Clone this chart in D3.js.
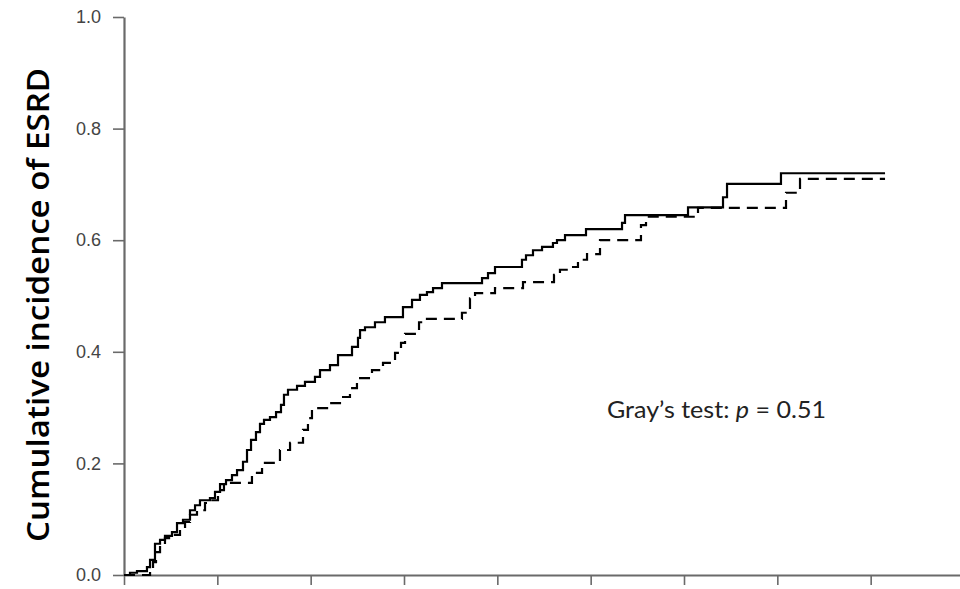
<!DOCTYPE html>
<html>
<head>
<meta charset="utf-8">
<script src="https://cdn.jsdelivr.net/npm/d3@7"></script>
<style>
  html, body { margin: 0; padding: 0; background: #fff; }
  svg { display: block; }
</style>
</head>
<body>
<svg id="chart" width="960" height="589"></svg>
<script>
// Cumulative incidence of ESRD, two groups (step functions: [time, value after jump])
const solidSteps = [
  [0, 0], [0.064, 0.004], [0.139, 0.007], [0.246, 0.014], [0.279, 0.027],
  [0.332, 0.056], [0.386, 0.063], [0.439, 0.070], [0.514, 0.077], [0.568, 0.093],
  [0.632, 0.099], [0.707, 0.116], [0.761, 0.125], [0.814, 0.134], [0.921, 0.138],
  [0.975, 0.149], [1.029, 0.163], [1.093, 0.170], [1.157, 0.179], [1.211, 0.188],
  [1.275, 0.203], [1.318, 0.224], [1.361, 0.242], [1.414, 0.256], [1.457, 0.271],
  [1.500, 0.278], [1.564, 0.283], [1.629, 0.292], [1.682, 0.305], [1.714, 0.323],
  [1.757, 0.332], [1.854, 0.339], [1.939, 0.346], [2.046, 0.355], [2.100, 0.367],
  [2.207, 0.376], [2.293, 0.394], [2.443, 0.409], [2.507, 0.425], [2.529, 0.439],
  [2.582, 0.444], [2.689, 0.453], [2.796, 0.462], [2.989, 0.480], [3.086, 0.493],
  [3.171, 0.502], [3.246, 0.507], [3.311, 0.514], [3.407, 0.523], [3.836, 0.532],
  [3.900, 0.541], [3.975, 0.552], [4.264, 0.565], [4.307, 0.573], [4.382, 0.582],
  [4.479, 0.588], [4.596, 0.595], [4.639, 0.600], [4.725, 0.609], [4.950, 0.620],
  [5.336, 0.631], [5.368, 0.645], [6.043, 0.659], [6.418, 0.677], [6.461, 0.701],
  [7.039, 0.720], [8.154, 0.720]
];

const dashedSteps = [
  [0, 0], [0.279, 0.009], [0.311, 0.023], [0.343, 0.041], [0.386, 0.054],
  [0.439, 0.066], [0.514, 0.072], [0.600, 0.084], [0.654, 0.095], [0.707, 0.108],
  [0.782, 0.116], [0.868, 0.129], [0.921, 0.134], [1.007, 0.152], [1.071, 0.165],
  [1.371, 0.183], [1.479, 0.201], [1.671, 0.224], [1.779, 0.237], [1.918, 0.260],
  [1.971, 0.281], [2.014, 0.299], [2.207, 0.308], [2.314, 0.319], [2.421, 0.335],
  [2.496, 0.353], [2.657, 0.367], [2.775, 0.380], [2.904, 0.398], [2.968, 0.416],
  [3.011, 0.432], [3.161, 0.453], [3.225, 0.459], [3.621, 0.470], [3.707, 0.496],
  [3.761, 0.505], [3.975, 0.514], [4.275, 0.525], [4.607, 0.538], [4.671, 0.547],
  [4.757, 0.552], [4.864, 0.565], [4.961, 0.575], [5.100, 0.600], [5.539, 0.627],
  [5.593, 0.642], [6.150, 0.658], [7.093, 0.685], [7.243, 0.710], [8.154, 0.710]
];

const yTicks = [0, 0.2, 0.4, 0.6, 0.8, 1.0];
const xTicks = [0, 1, 2, 3, 4, 5, 6, 7, 8];
const yTitle = "Cumulative incidence of ESRD";

const svg = d3.select("#chart");

const x = d3.scaleLinear().domain([0, 9]).range([124, 964]);
const y = d3.scaleLinear().domain([0, 1]).range([575, 17]);

const axisColor = "#6a6a6a";

// y axis
const gy = svg.append("g")
  .attr("transform", "translate(124,0)")
  .call(d3.axisLeft(y).tickValues(yTicks).tickFormat(d3.format(".1f"))
    .tickSize(11).tickSizeOuter(0).tickPadding(12));
gy.select(".domain").attr("stroke", axisColor).attr("stroke-width", 2.2);
gy.selectAll(".tick line").attr("stroke", axisColor).attr("stroke-width", 1.6);
gy.selectAll(".tick text")
  .attr("fill", "#444")
  .style("font-family", "'Liberation Sans', Arial, sans-serif")
  .style("font-size", "18px");

// x axis (unlabelled ticks)
const gx = svg.append("g")
  .attr("transform", "translate(0,575)")
  .call(d3.axisBottom(x).tickValues(xTicks).tickFormat("")
    .tickSize(10).tickSizeOuter(0));
gx.select(".domain").attr("stroke", axisColor).attr("stroke-width", 2.2);
gx.selectAll(".tick line").attr("stroke", axisColor).attr("stroke-width", 1.6);

// step curves
const line = d3.line()
  .x(d => x(d[0]))
  .y(d => y(d[1]))
  .curve(d3.curveStepAfter);

svg.append("path")
  .datum(dashedSteps)
  .attr("d", line)
  .attr("fill", "none")
  .attr("stroke", "#000")
  .attr("stroke-width", 2.2)
  .attr("stroke-dasharray", "11,7");

svg.append("path")
  .datum(solidSteps)
  .attr("d", line)
  .attr("fill", "none")
  .attr("stroke", "#000")
  .attr("stroke-width", 2.2);

// y axis title
svg.append("text")
  .attr("transform", "translate(49,305) rotate(-90)")
  .attr("text-anchor", "middle")
  .attr("fill", "#000")
  .attr("textLength", 474)
  .attr("lengthAdjust", "spacingAndGlyphs")
  .style("font-family", "'Open Sans', 'Noto Sans', sans-serif")
  .style("font-weight", 600)
  .style("font-size", "31px")
  .text(yTitle);

// test annotation
const note = svg.append("text")
  .attr("x", 607)
  .attr("y", 418)
  .attr("fill", "#222")
  .attr("textLength", 219)
  .attr("lengthAdjust", "spacingAndGlyphs")
  .style("font-family", "Lato, 'Open Sans', sans-serif")
  .style("font-size", "24px");
note.append("tspan").text("Gray\u2019s test: ");
note.append("tspan").style("font-style", "italic").text("p");
note.append("tspan").text(" = 0.51");
</script>
</body>
</html>
